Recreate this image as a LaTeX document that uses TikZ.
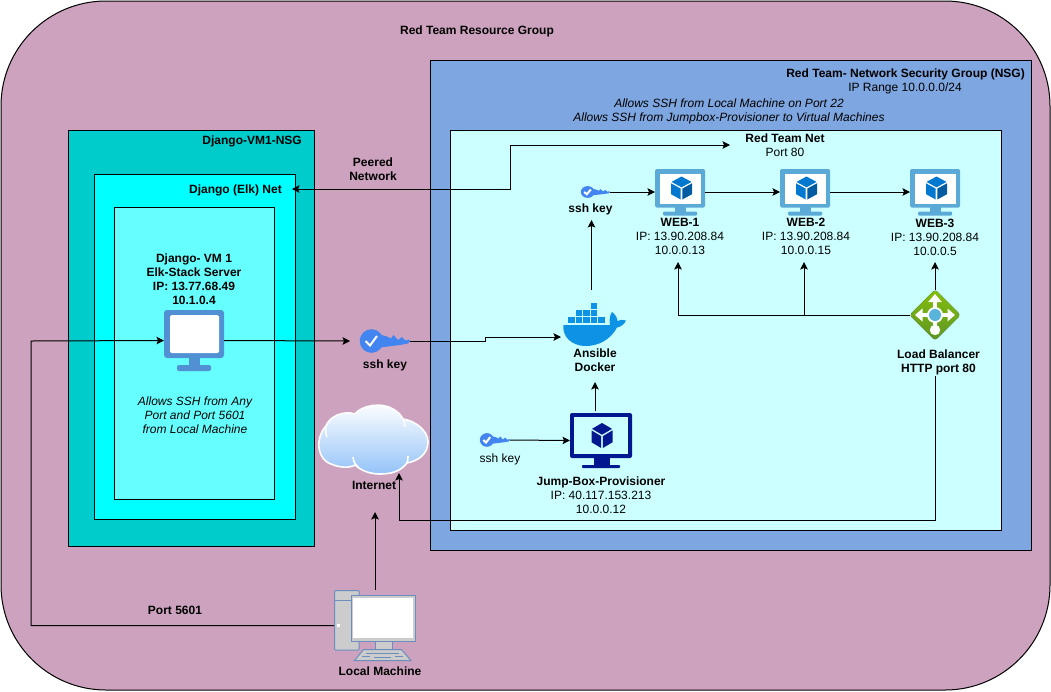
\documentclass[tikz,border=0pt]{standalone}
\usepackage{fontspec}
\setmainfont{Liberation Sans}
\usetikzlibrary{arrows.meta,calc}
\definecolor{pinkbg}{HTML}{CDA2BE}
\definecolor{nsgblue}{HTML}{7EA6E0}
\definecolor{rednet}{HTML}{CCFFFF}
\definecolor{djnsg}{HTML}{00CCCC}
\definecolor{djnet}{HTML}{00FFFF}
\definecolor{djvm}{HTML}{66FFFF}
\definecolor{vmframe}{HTML}{5AA9D6}
\definecolor{cubea}{HTML}{0078D0}
\definecolor{cubeb}{HTML}{005BA1}
\definecolor{navyvm}{HTML}{00188F}
\definecolor{djframe}{HTML}{5090D3}
\definecolor{keyblue}{HTML}{4285F0}
\definecolor{dock}{HTML}{0E92E6}
\definecolor{lbgreen}{HTML}{84BE0C}
\definecolor{lbdark}{HTML}{5E9624}
\definecolor{lbcore}{HTML}{59B4D9}
\definecolor{pcline}{HTML}{6C8EBF}
\definecolor{cloudblue}{HTML}{94C3F8}
\tikzset{
 x=1pt,y=-1pt,
 panel/.style={draw=black,line width=1pt},
 lab/.style={inner sep=0pt,align=center,text=black,font=\fontsize{12}{14}\selectfont},
 blab/.style={lab,font=\fontsize{12}{14}\selectfont\bfseries},
 ilab/.style={lab,font=\fontsize{12}{14}\selectfont\itshape},
 conn/.style={draw=black,line width=1pt,-{Stealth[length=7.5pt,width=7.5pt,inset=1.5pt]}},
 connb/.style={draw=black,line width=1pt,{Stealth[length=7.5pt,width=7.5pt,inset=1.5pt]}-{Stealth[length=7.5pt,width=7.5pt,inset=1.5pt]}},
}
% icon box node: name, x1,y1,x2,y2
\newcommand\iconnode[5]{\node[inner sep=0pt,outer sep=0pt,minimum width=#4pt-#2pt,minimum height=#5pt-#3pt] (#1) at ({(#2+#4)/2},{(#3+#5)/2}) {};}
% cube, local coordinates centered at 0,0 (half height 11.5)
\newcommand\cube[3]{%
 \fill[#1] (0,-11.5) -- (10,-6.1) -- (0,-0.7) -- (-10,-6.1) -- cycle;
 \fill[#2] (-10.5,-4.7) -- (-0.8,0.6) -- (-0.8,11.5) -- (-10.5,6.2) -- cycle;
 \fill[#3] (10.5,-4.7) -- (0.8,0.6) -- (0.8,11.5) -- (10.5,6.2) -- cycle;
}
% web monitor 50 x 46 local
\newcommand\vmicon[2]{%
\begin{scope}[shift={(#1,#2)}]
 \fill[vmframe,rounded corners=1.5pt] (0,0) rectangle (50,38.5);
 \fill[white] (4.5,4.5) rectangle (45.5,35);
 \fill[vmframe] (19.5,38) rectangle (30.5,43.5);
 \fill[vmframe,rounded corners=1pt] (8,42.5) rectangle (42,46.5);
 \begin{scope}[shift={(26.5,19)}]\cube{cubea}{cubea}{cubeb}\end{scope}
\end{scope}}
% key 50 x 24 local
\newcommand\keyicon[5]{%
\begin{scope}[shift={(#1,#2)},xscale=#3,yscale=#4]
 \fill[#5] (11.5,12) circle[radius=11.8pt];
 \fill[#5] (20,5.5) -- (27,7.5) -- (31,9.5) -- (33.5,6) -- (38,11) -- (42,8) -- (45.5,11.5) -- (49,10.5) -- (50,12) -- (48,14.5) -- (40,16) -- (20,18.5) -- cycle;
 \draw[white,line width=2pt] (5.5,12) -- (10,16.5) -- (17,7);
\end{scope}}
\begin{document}
\begin{tikzpicture}
\useasboundingbox (0,0) rectangle (1051,691);
% containers
\node[panel,fill=pinkbg,rounded corners=105pt,minimum width=1049pt,minimum height=689pt,inner sep=0pt] (rg) at (525.5,345.5) {};
\node[panel,fill=nsgblue,minimum width=601pt,minimum height=490pt,inner sep=0pt] (nsg) at (730.5,305) {};
\node[panel,fill=rednet,minimum width=551pt,minimum height=400pt,inner sep=0pt] (net) at (725.5,330) {};
\node[panel,fill=djnsg,minimum width=246pt,minimum height=416pt,inner sep=0pt] (djn) at (191,338) {};
\node[panel,fill=djnet,minimum width=201pt,minimum height=345pt,inner sep=0pt] (djk) at (194.5,346.5) {};
\node[panel,fill=djvm,minimum width=160pt,minimum height=292pt,inner sep=0pt] (djb) at (194,353) {};
% texts
\node[blab] (trg) at (477,31) {Red Team Resource Group};
\node[blab,anchor=east] (tnsg) at (1025,74) {Red Team- Network Security Group (NSG)};
\node[lab] (tip) at (905,88) {IP Range 10.0.0.0/24};
\node[ilab] (tallow) at (729,111) {Allows SSH from Local Machine on Port 22\\Allows SSH from Jumpbox-Provisioner to Virtual Machines};
\node[lab] (tnet) at (785,145) {\textbf{Red Team Net}\\Port 80};
\node[blab,anchor=east] (tdn) at (302,141) {Django-VM1-NSG};
\node[blab,anchor=east] (tde) at (282,190) {Django (Elk) Net};
\node[blab] (tvm) at (194,279) {Django- VM 1\\Elk-Stack Server\\IP: 13.77.68.49\\10.1.0.4};
\node[ilab] (tal) at (195,415) {Allows SSH from Any\\Port and Port 5601\\from Local Machine};
\node[blab] (tpn) at (373,169) {Peered\\Network};
\node[blab] (tkb) at (385,365) {ssh key};
\node[blab] (tk2) at (590.5,209) {ssh key};
\node[lab] (tk3) at (500,459) {ssh key};
\node[lab] (tw1) at (680,236) {\textbf{WEB-1}\\IP: 13.90.208.84\\10.0.0.13};
\node[lab] (tw2) at (806,236) {\textbf{WEB-2}\\IP: 13.90.208.84\\10.0.0.15};
\node[lab] (tw3) at (935,237) {\textbf{WEB-3}\\IP: 13.90.208.84\\10.0.0.5};
\node[blab] (tan) at (595,360) {Ansible\\Docker};
\node[blab] (tlb) at (938.5,362) {Load Balancer\\HTTP port 80};
\node[lab] (tjb) at (601,495) {\textbf{Jump-Box-Provisioner}\\IP: 40.117.153.213\\10.0.0.12};
\node[blab] (tin) at (374,485) {Internet};
\node[blab] (tpt) at (175,610) {Port 5601};
\node[blab] (tlm) at (380,671) {Local Machine};
% icon boxes
\iconnode{web1}{655}{169}{705}{215}
\iconnode{web2}{780}{169}{830}{215}
\iconnode{web3}{910}{169}{960}{215}
\iconnode{jump}{570}{413}{632}{468}
\iconnode{elk}{164}{310}{224}{371}
\iconnode{keybig}{360}{329}{410}{353}
\iconnode{keyweb}{581}{186}{610}{198}
\iconnode{keyjump}{480}{433}{510}{447}
\iconnode{docker}{563}{303}{626}{347}
\iconnode{lb}{910}{290}{960}{340}
\iconnode{cloud}{319}{405}{429}{474}
\iconnode{localm}{334}{590}{416}{661}
% VM icons
\vmicon{655}{169}
\vmicon{780}{169}
\vmicon{910}{169}
% jump box monitor
\begin{scope}[shift={(570,413)}]
 \fill[navyvm,rounded corners=2pt] (0,0) rectangle (62,45);
 \fill[rednet] (4,4) rectangle (58,41);
 \fill[navyvm] (24,44) rectangle (40,52);
 \fill[navyvm,rounded corners=0.8pt] (12,52) rectangle (50,55);
 \begin{scope}[shift={(32,22.5)},xscale=1,yscale=1.09]\cube{navyvm}{navyvm}{navyvm}\end{scope}
\end{scope}
% elk monitor
\begin{scope}[shift={(164,310)}]
 \fill[djframe,rounded corners=3pt] (0,0) -- (60,0) -- (60,48) -- (0,48) -- cycle;
 \fill[white,rounded corners=1.5pt] (6,5) rectangle (55,43);
 \fill[djframe] (25,47) rectangle (36,57);
 \fill[djframe,rounded corners=2pt] (13,55) rectangle (47,61);
\end{scope}
% keys
\keyicon{360}{329}{1}{1}{keyblue}
\keyicon{581}{186}{0.58}{0.5}{keyblue}
\keyicon{480}{433}{0.6}{0.58}{keyblue}
% docker
\begin{scope}[shift={(555,295)}]
 \fill[dock] (8.5,30) -- (55,30) .. controls (54,24) and (55,20) .. (57,17) .. controls (60,19) and (62.5,23) .. (62.5,26)
   .. controls (65,24.5) and (68,24.5) .. (71,25.5) .. controls (69,30) and (65,32) .. (62,32.5)
   .. controls (56,44) and (44,51) .. (31,51) .. controls (15,51) and (7,40) .. (8.5,30) -- cycle;
 \foreach \i in {0,1,2,3,4}{\fill[dock] ({13.2+7.5*\i},22.3) rectangle ++(6.5,6);}
 \foreach \i in {0,1,2}{\fill[dock] ({20.7+7.5*\i},15) rectangle ++(6.5,6);}
 \fill[dock] (35.7,7.7) rectangle ++(6.5,6);
\end{scope}
% load balancer
\begin{scope}[shift={(935,315)}]
 \fill[top color=lbgreen,bottom color=lbdark,rounded corners=3pt] (0,-25.5) -- (25.5,0) -- (0,25.5) -- (-25.5,0) -- cycle;
 \draw[white,line width=4pt] (-15,0) -- (15,0) (0,-15) -- (0,15);
 \fill[white] (0,-21) -- (6.8,-13) -- (-6.8,-13) -- cycle;
 \fill[white] (-20,0) -- (-12.5,-6.5) -- (-12.5,6.5) -- cycle;
 \fill[white] (20,0) -- (12.5,-6.5) -- (12.5,6.5) -- cycle;
 \fill[white] (0,15) circle[radius=5.2pt];
 \fill[white] (0,0) circle[radius=8pt];
 \fill[lbcore] (0,0) circle[radius=6pt];
\end{scope}
% cloud
\begin{scope}
 \path[draw=white,line width=1.6pt,top color=white,bottom color=cloudblue]
  (331,464) .. controls (322,461) and (318,451) .. (319,442)
  .. controls (320,434) and (323,429) .. (326,426)
  .. controls (329,417) and (343,410) .. (355,414)
  .. controls (362,405) and (382,402) .. (393,409)
  .. controls (398,412) and (401,415) .. (403,419)
  .. controls (416,421) and (428,431) .. (428,442)
  .. controls (428,454) and (418,461) .. (407,463)
  .. controls (400,472) and (390,474) .. (380,474)
  .. controls (370,474) and (362,471) .. (355,465)
  .. controls (350,468) and (340,468) .. (331,464) -- cycle;
 \draw[white,line width=1.6pt] (353,457) .. controls (353,460) and (354,463) .. (358,467);
 \draw[white,line width=1.6pt] (407,463) .. controls (408,461) and (408,459) .. (408,456);
 \draw[white,line width=1.4pt] (326,427) .. controls (325,430) and (326,434) .. (327,437);
 \draw[white,line width=1.4pt] (403,419) .. controls (404,421) and (405,424) .. (405,427);
\end{scope}
% local machine
\begin{scope}
 \draw[pcline,fill=black!20,line width=1pt,rounded corners=1pt] (334.5,590.5) rectangle (359,650);
 \draw[pcline,line width=1pt] (334.5,600) -- (351,600);
 \fill[white] (337,623.5) rectangle (340,627);
 \draw[pcline,fill=black!20,line width=1pt] (375,641) rectangle (392,650);
 \draw[pcline,fill=black!20,line width=1pt] (351,595) rectangle (415.5,641);
 \fill[white] (353,598) rectangle (413,638);
 \draw[pcline,fill=black!20,line width=1pt] (354.5,660.5) -- (363.5,649.5) -- (401.5,649.5) -- (411,660.5) -- cycle;
 \draw[pcline,line width=1pt] (366,653) -- (399,653) (362,656.5) -- (370,656.5) (374,657) -- (391,657) (395,656.5) -- (403,656.5);
\end{scope}
% free ends
\coordinate (webone) at (678,262);
\coordinate (webtwo) at (804,262);
\coordinate (webthree) at (935,262);
\coordinate (ktip) at (591.5,220);
\coordinate (dtop) at (591.5,290);
\coordinate (dright) at (561,337);
\coordinate (jtop) at (595,382);
\coordinate (jstart) at (595,411);
\coordinate (lmtip) at (375,512);
\coordinate (ctip) at (399,473);
\coordinate (lbl) at (935,376);
\coordinate (elkout) at (350,341);
\coordinate (pa) at (292,189);
\coordinate (pb) at (730,145);
% connectors
\draw[connb] (pa) -- (510,189) -- (510,145) -- (pb);
\draw[conn] (keyweb.east) -- (web1.west);
\draw[conn] (web1.east) -- (web2.west);
\draw[conn] (web2.east) -- (web3.west);
\draw[conn] (dtop) -- (ktip);
\draw[conn] (lb.north) -- (webthree);
\draw[conn] (lb.west) -| (webone);
\draw[conn] (lb.west -| webtwo) -- (webtwo);
\draw[conn] (jstart) -- (jtop);
\draw[conn] (keyjump.east) -- (jump.west);
\draw[conn] (lbl) -- (935,520) -- (399,520) -- (ctip);
\draw[conn] (localm.north -| lmtip) -- (lmtip);
\draw[conn] (localm.west) -- (31,625.5) -- (31,341) -- (elk.west);
\draw[conn] (elk.east) -- (elkout);
\draw[conn] (keybig.east) -- (485,341) -- (485,337) -- (dright);
\end{tikzpicture}
\end{document}
